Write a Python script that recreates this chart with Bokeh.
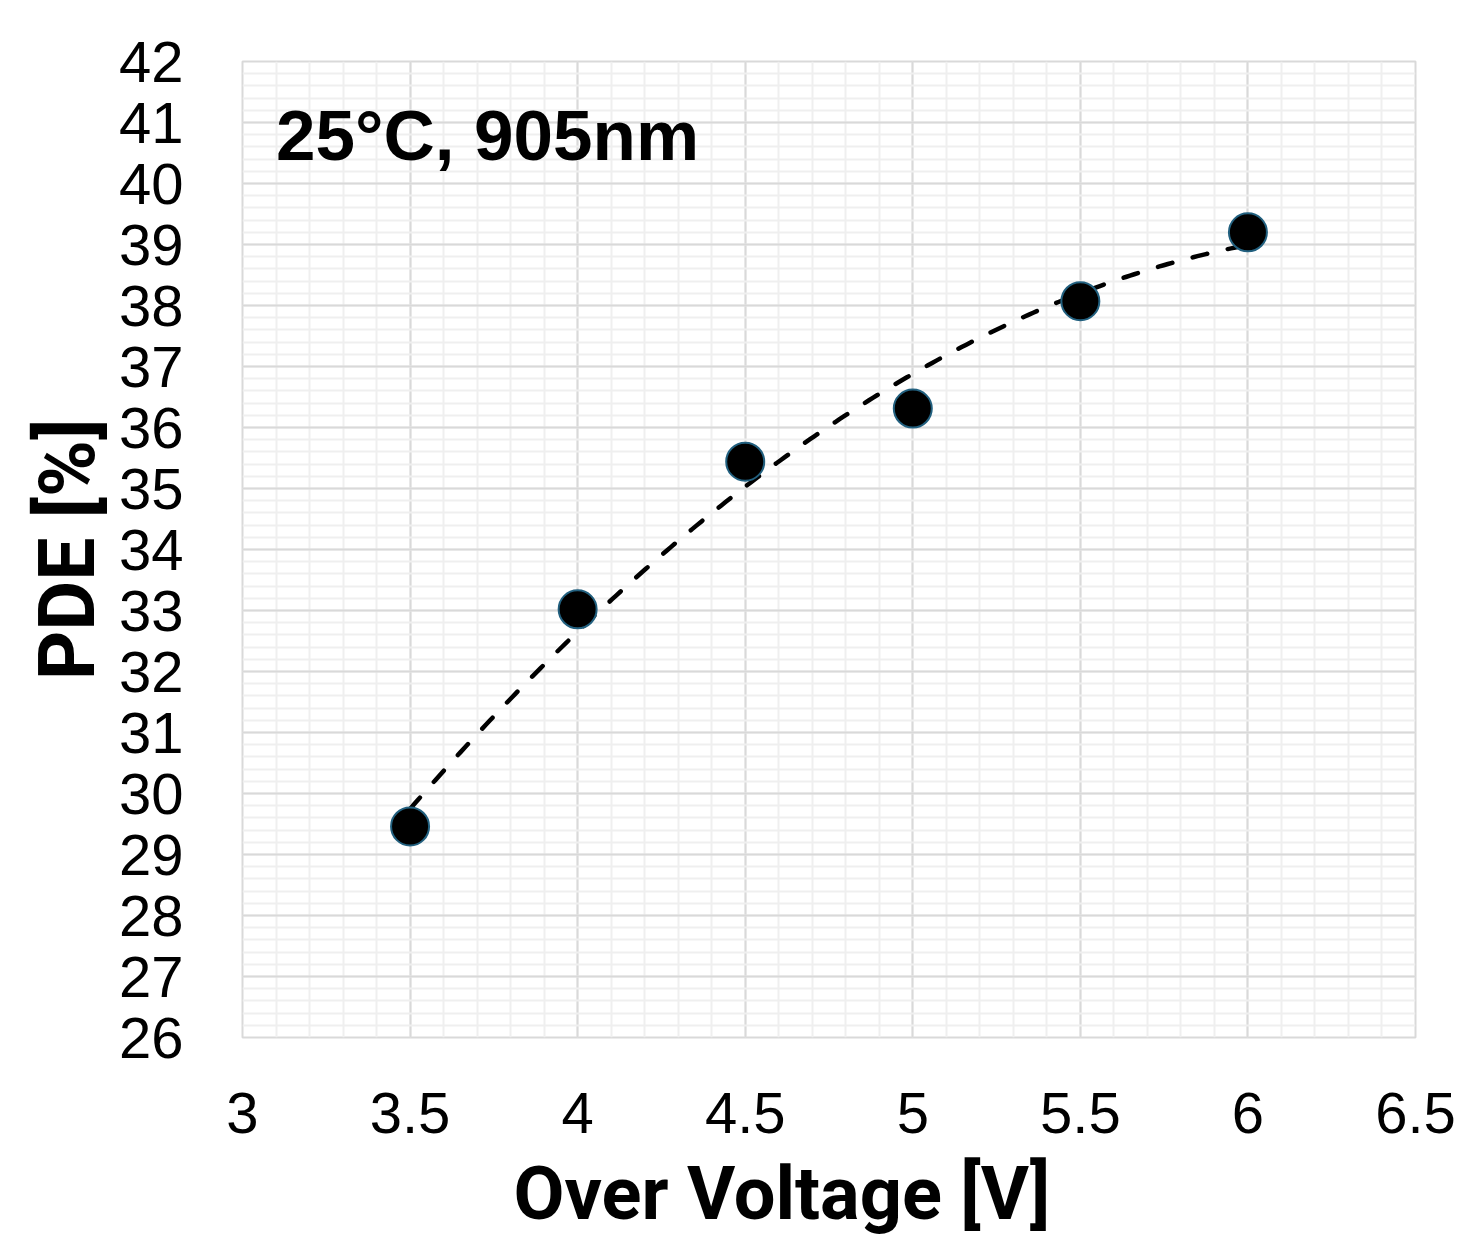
import numpy as np
from bokeh.plotting import figure
from bokeh.models import FixedTicker, NumeralTickFormatter, Label, Range1d, Title
from bokeh.embed import file_html
from bokeh.resources import INLINE

# Data
over_voltage = [3.5, 4.0, 4.5, 5.0, 5.5, 6.0]
pde = [29.46, 33.02, 35.44, 36.31, 38.07, 39.2]

x_ticks = [3, 3.5, 4, 4.5, 5, 5.5, 6, 6.5]
y_ticks = list(range(26, 43))

p = figure(width=1456, height=1250, output_backend="svg", toolbar_location=None,
           x_range=Range1d(3, 6.5), y_range=Range1d(26, 42),
           min_border_left=242, min_border_right=41, min_border_top=61, min_border_bottom=213)

p.outline_line_color = "#d9d9d9"
p.outline_line_width = 2
p.background_fill_color = "white"
p.border_fill_color = "white"

xminor = [round(v, 2) for v in np.arange(3.0, 6.5001, 0.1)]
yminor = [round(v, 2) for v in np.arange(26.0, 42.0001, 0.2)]
p.xaxis.ticker = FixedTicker(ticks=x_ticks, minor_ticks=xminor)
p.yaxis.ticker = FixedTicker(ticks=y_ticks, minor_ticks=yminor)
p.xaxis.formatter = NumeralTickFormatter(format="0.[0]")

for ax in (p.xaxis, p.yaxis):
    ax.axis_line_color = None
    ax.major_tick_line_color = None
    ax.minor_tick_line_color = None
    ax.major_label_text_font = "Liberation Sans"
    ax.major_label_text_font_size = "58px"
    ax.major_label_text_color = "black"
    ax.axis_label_text_font = "Roboto"
    ax.axis_label_text_font_style = "bold"
    ax.axis_label_text_color = "black"

p.yaxis.axis_label_text_font_size = "77px"
p.yaxis.axis_label = "PDE [%]"
p.yaxis.major_label_standoff = 53
p.xaxis.major_label_standoff = 49
p.yaxis.axis_label_standoff = 3

p.xgrid.grid_line_color = "#d9d9d9"
p.ygrid.grid_line_color = "#d9d9d9"
p.xgrid.grid_line_width = 2
p.ygrid.grid_line_width = 2
p.xgrid.minor_grid_line_color = "#efefef"
p.ygrid.minor_grid_line_color = "#efefef"
p.xgrid.minor_grid_line_width = 2
p.ygrid.minor_grid_line_width = 2

# Quadratic trendline (fit of the data, as in the source chart)
coef = np.polyfit(over_voltage, pde, 2)
xs = np.linspace(min(over_voltage), max(over_voltage), 200)
ys = np.polyval(coef, xs)
p.line(xs, ys, line_color="black", line_width=4.5, line_dash="15 21", line_cap="round")

p.scatter(over_voltage, pde, size=38, fill_color="black", line_color="#22607f", line_width=2)

p.add_layout(Label(x=3.1, y=40.79, text="25°C, 905nm", text_font="Liberation Sans",
                   text_font_style="bold", text_font_size="71px", text_color="black",
                   text_baseline="alphabetic"))

# x axis title, placed like the source chart (slightly left of the frame centre)
p.add_layout(Title(text="Over Voltage [V]", text_font="Roboto", text_font_style="bold",
                   text_font_size="74px", text_color="black", align="left",
                   offset=271, standoff=24), "below")

open("out.html", "w").write(file_html(p, INLINE))
